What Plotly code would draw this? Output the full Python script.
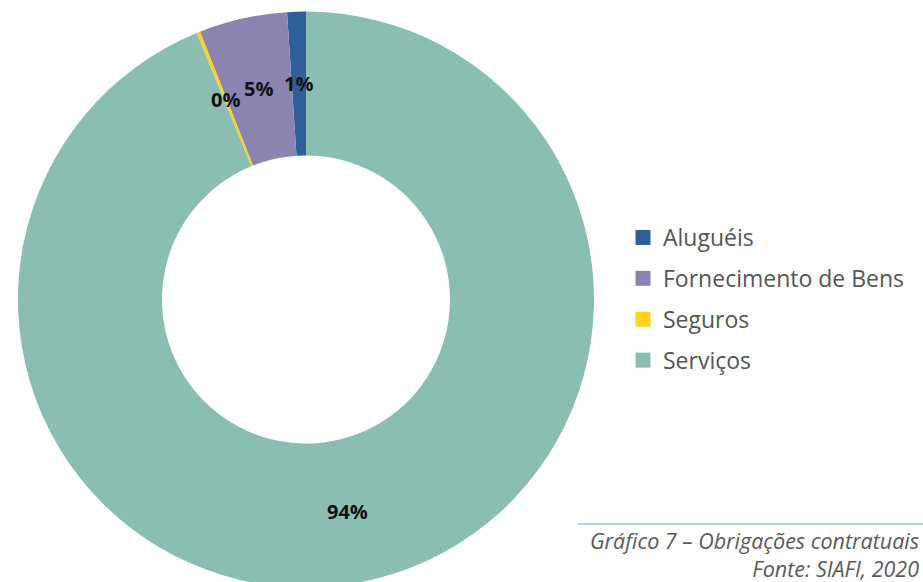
import math
import plotly.graph_objects as go

categories = ["Aluguéis", "Fornecimento de Bens", "Seguros", "Serviços"]
values = [1.05, 4.95, 0.2, 93.8]
pct_labels = ["1%", "5%", "0%", "94%"]
colors = ["#2E5F99", "#8B84B0", "#FFD21F", "#8BBEB2"]
caption_lines = ["Gráfico 7 – Obrigações contratuais", "Fonte: SIAFI, 2020"]

W, H = 923, 588
dom_x = [18 / W, 594 / W]
dom_y = [0, 1 - 11 / H]

total = sum(values)

fig = go.Figure()
fig.add_trace(go.Pie(
    labels=categories, values=values,
    textinfo="none",
    sort=False, direction="counterclockwise",
    # plotly ends the first counterclockwise slice at 12 o'clock; shift so it starts there
    rotation=-360 * values[0] / total,
    hole=0.5, marker=dict(colors=colors, line=dict(width=0)),
    showlegend=False,
    domain=dict(x=dom_x, y=dom_y),
    hoverinfo="label+percent",
))

for name, col in zip(categories, colors):
    fig.add_trace(go.Scatter(
        x=[None], y=[None], mode="markers", name=name,
        marker=dict(symbol="square", size=15, color=col),
        legendgroup=name, showlegend=True,
    ))

# percentage labels at the middle of the ring, at each slice's mid-angle
annotations = []
cum = 0.0
for v, lab in zip(values, pct_labels):
    mid = (cum + v / 2) / total
    cum += v
    t = 2 * math.pi * mid
    annotations.append(dict(
        x=-0.75 * math.sin(t), y=0.75 * math.cos(t), xref="x", yref="y",
        text="<b>%s</b>" % lab, showarrow=False,
        font=dict(family="Open Sans", size=20, color="#111111"),
    ))

annotations.append(dict(
    text="<br>".join("<i>%s</i>" % s for s in caption_lines),
    xref="paper", yref="paper", align="right",
    x=921 / W, y=1 - 554 / H, xanchor="right", yanchor="middle", showarrow=False,
    font=dict(family="Open Sans", size=21.5, color="#5A5A5A"),
))

ky = (dom_y[1] - dom_y[0]) * H / ((dom_x[1] - dom_x[0]) * W)

fig.update_layout(
    width=W, height=H,
    margin=dict(l=0, r=0, t=0, b=0),
    paper_bgcolor="white", plot_bgcolor="rgba(0,0,0,0)",
    xaxis=dict(visible=False, domain=dom_x, range=[-1, 1], fixedrange=True),
    yaxis=dict(visible=False, domain=dom_y, range=[-ky, ky], fixedrange=True),
    legend=dict(x=623 / W, y=1 - 216 / H, xanchor="left", yanchor="top",
                font=dict(family="Open Sans", size=23, color="#555555"),
                tracegroupgap=8, itemwidth=30, bgcolor="rgba(0,0,0,0)"),
    shapes=[dict(type="line", xref="paper", yref="paper",
                 x0=578 / W, x1=1, y0=1 - 524 / H, y1=1 - 524 / H,
                 line=dict(color="#7FA0C8", width=1))],
    annotations=annotations,
)

fig.write_html(
    "out.html",
    config={"displayModeBar": False},
    post_script="document.body.style.margin='0';document.body.style.overflow='hidden';"
                "document.documentElement.style.overflow='hidden';",
)
